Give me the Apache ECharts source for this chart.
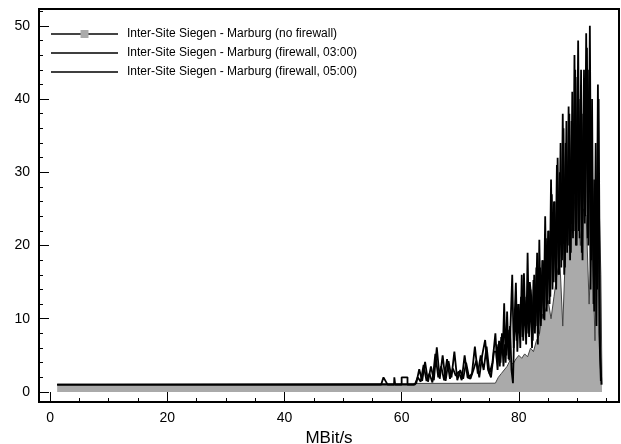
<!DOCTYPE html>
<html>
<head>
<meta charset="utf-8">
<script src="https://cdn.jsdelivr.net/npm/echarts@6/dist/echarts.min.js"></script>
<style>html,body{margin:0;padding:0;background:#fff}#c{width:621px;height:444px}</style>
</head>
<body>
<div id="c"></div>
<script>
// ---- data ----
var seriesNames = [
  'Inter-Site Siegen - Marburg (no firewall)',
  'Inter-Site Siegen - Marburg (firewall, 03:00)',
  'Inter-Site Siegen - Marburg (firewall, 05:00)'
];
var xTicks = [0, 20, 40, 60, 80];
var xMinorTicks = [0,5,10,15,20,25,30,35,40,45,50,55,60,65,70,75,80,85,90,95];
var yTicks = [0, 10, 20, 30, 40, 50];
var yMinorTicks = [0,2,4,6,8,10,12,14,16,18,20,22,24,26,28,30,32,34,36,38,40,42,44,46,48,50,52];

var noFwX = [1.2, 76, 76.5, 77, 77.5, 78, 78.5, 79, 79.5, 80, 80.5, 81, 81.5, 82, 82.5, 83, 83.5, 84, 84.5, 85, 85.5, 86, 86.5, 87, 87.5, 88, 88.5, 89, 89.5, 90, 90.5, 91, 91.5, 92, 92.5, 93, 93.5, 94, 94.2];
var noFwY = [1, 1.2, 2, 2.5, 3, 3.5, 4.3, 3.8, 4.5, 5, 4.6, 5.2, 4.8, 6, 5.5, 7, 7.8, 10.5, 11, 12.5, 10, 13, 16, 18, 9, 20, 23, 22, 26, 28, 20, 25, 24, 12, 22, 7, 33, 16, 1];

var fw03X = [1.2, 56.5, 56.9, 57.1, 57.6, 58.7, 58.75, 58.85, 58.9, 60.0, 60.0, 61.0, 61.0, 62.0,
  62.5, 63, 63.5, 64, 64.5, 65, 65.5, 66, 66.5, 67, 67.5, 68, 68.5, 69, 69.5, 70, 70.5, 71, 71.5, 72, 72.5, 73, 73.5, 74, 74.5, 75, 75.5,
  76, 76.25, 76.5, 76.75, 77, 77.25, 77.5, 77.75, 78, 78.25, 78.5, 78.75, 79, 79.25, 79.5, 79.75,
  80, 80.25, 80.5, 80.75, 81, 81.25, 81.5, 81.75, 82, 82.25, 82.5, 82.75, 83, 83.25, 83.5, 83.75,
  84, 84.25, 84.5, 84.75, 85, 85.25, 85.5, 85.75, 86, 86.25, 86.5, 86.75, 87, 87.25, 87.5, 87.75,
  88, 88.25, 88.5, 88.75, 89, 89.25, 89.5, 89.75, 90, 90.25, 90.5, 90.75, 91, 91.25, 91.5, 91.75,
  92, 92.25, 92.5, 92.75, 93, 93.25, 93.5, 93.75, 94];
var fw03Y = [1, 1, 2, 2, 1, 1, 2, 2, 1, 1, 2, 2, 1, 1,
  1.2, 3.1, 1.5, 4.1, 1.4, 3.5, 1.6, 6.1, 1.8, 5.0, 1.5, 4.2, 2.0, 5.5, 1.6, 3.0, 1.8, 4.0, 2.0, 2.5, 6.2, 2.5, 5.0, 3.0, 6.2, 2.5, 4.0,
  8.0, 4.5, 6.5, 3.5, 7.5, 5.0, 12.1, 4.0, 11.0, 4.5, 9.0, 3.0, 1.2, 9.5, 14.9, 5.5,
  12, 6, 16.0, 7, 13, 6.5, 19.0, 7.5, 14, 6, 15.3, 8, 17, 6.5, 20.8, 9,
  18, 10, 24, 11, 22, 12, 29, 14, 26, 15, 31, 16, 30, 17, 38, 16,
  34, 19, 39, 18, 37, 21, 46, 20, 43, 22, 40, 19, 38, 23, 49, 21,
  44, 14, 40, 12, 29, 9, 42, 8, 1.5];

var fw05X = [1.2, 62.25,
  62.75, 63.25, 63.75, 64.25, 64.75, 65.25, 65.75, 66.25, 66.75, 67.25, 67.75, 68.25, 68.75, 69.25, 69.75, 70.25, 70.75, 71.25, 71.75, 72.25, 72.75, 73.25, 73.75, 74.25, 74.75, 75.25, 75.75,
  76.125, 76.375, 76.625, 76.875, 77.125, 77.375, 77.625, 77.875, 78.125, 78.375, 78.625, 78.875, 79.125, 79.375, 79.625, 79.875,
  80.125, 80.375, 80.625, 80.875, 81.125, 81.375, 81.625, 81.875, 82.125, 82.375, 82.625, 82.875, 83.125, 83.375, 83.625, 83.875,
  84.125, 84.375, 84.625, 84.875, 85.125, 85.375, 85.625, 85.875, 86.125, 86.375, 86.625, 86.875, 87.125, 87.375, 87.625, 87.875,
  88.125, 88.375, 88.625, 88.875, 89.125, 89.375, 89.625, 89.875, 90.125, 90.375, 90.625, 90.875, 91.125, 91.375, 91.625, 91.875,
  92.125, 92.375, 92.625, 92.875, 93.125, 93.375, 93.625, 93.875, 94.1];
var fw05Y = [1, 1,
  2.0, 1.4, 3.7, 1.5, 2.5, 1.3, 5.2, 2.0, 3.5, 1.6, 4.5, 1.8, 3.2, 2.2, 2.8, 1.6, 5.0, 2.0, 1.8, 3.0, 4.3, 2.0, 5.0, 7.1, 3.0, 2.0, 5.5,
  5.5, 3.0, 7.0, 4.0, 8.0, 3.5, 6.5, 5.0, 8.5, 4.3, 10, 16.0, 6.0, 11, 7, 12.0,
  8.0, 13, 7.5, 16.2, 9, 12.6, 8.0, 15, 13.0, 7.0, 16, 9, 19.0, 8.0, 17, 10,
  18, 9.8, 21, 12, 22, 13, 27, 15, 26, 14, 32, 16, 34, 18, 36, 17,
  37, 20, 38, 19, 41, 22, 44, 20, 48, 21, 44, 18, 44, 24, 47, 20,
  50, 18, 29, 11, 34, 14, 40, 6, 1];

function zip(xs, ys) { return xs.map(function (x, i) { return [x, ys[i]]; }); }

var FONT = '"Liberation Sans", Arial, Helvetica, sans-serif';
var linePath = 'path://M0,4.2h68v1.6h-68z M0,0h0.05v0.05h-0.05z M0,9.95h0.05v0.05h-0.05z';

var chart = echarts.init(document.getElementById('c'), null, {renderer: 'canvas'});
chart.setOption({
  animation: false,
  backgroundColor: '#fff',
  grid: {left: 39, right: 2, top: 9, bottom: 42, show: true, borderColor: '#000', borderWidth: 2,
         backgroundColor: 'transparent', containLabel: false, outerBoundsMode: 'none'},
  legend: {
    orient: 'vertical', left: 50, top: 28, padding: 0, itemWidth: 67, itemHeight: 10, itemGap: 7,
    textStyle: {fontFamily: FONT, fontSize: 12, color: '#000', padding: [0, 0, 0, 4]},
    data: [
      {name: seriesNames[0]},
      {name: seriesNames[1], icon: linePath},
      {name: seriesNames[2], icon: linePath}
    ]
  },
  xAxis: [
    {type: 'value', min: -1.9, max: 97.1, position: 'bottom',
     name: 'MBit/s', nameLocation: 'middle', nameGap: 27,
     nameTextStyle: {fontFamily: FONT, fontSize: 17, color: '#000'},
     axisLine: {show: false, onZero: false}, splitLine: {show: false},
     axisTick: {show: true, inside: true, length: 10, customValues: xTicks, lineStyle: {color: '#000', width: 1}},
     axisLabel: {show: true, customValues: xTicks, margin: 9, fontFamily: FONT, fontSize: 14, color: '#000'}},
    {type: 'value', min: -1.9, max: 97.1, position: 'bottom',
     axisLine: {show: false, onZero: false}, splitLine: {show: false},
     axisTick: {show: true, inside: true, length: 4, customValues: xMinorTicks, lineStyle: {color: '#000', width: 1}},
     axisLabel: {show: false}}
  ],
  yAxis: [
    {type: 'value', min: -1.37, max: 52.3, position: 'left',
     axisLine: {show: false, onZero: false}, splitLine: {show: false},
     axisTick: {show: true, inside: true, length: 10, customValues: yTicks, lineStyle: {color: '#000', width: 1}},
     axisLabel: {show: true, customValues: yTicks, margin: 9, fontFamily: FONT, fontSize: 14, color: '#000'}},
    {type: 'value', min: -1.37, max: 52.3, position: 'left',
     axisLine: {show: false, onZero: false}, splitLine: {show: false},
     axisTick: {show: true, inside: true, length: 4, customValues: yMinorTicks, lineStyle: {color: '#000', width: 1}},
     axisLabel: {show: false}}
  ],
  series: [
    {name: seriesNames[0], type: 'line', xAxisIndex: 0, yAxisIndex: 0,
     data: zip(noFwX, noFwY), symbol: 'rect', showSymbol: false, symbolSize: 8,
     itemStyle: {color: '#aaaaaa'}, lineStyle: {color: '#444444', width: 1},
     areaStyle: {color: '#aaaaaa', opacity: 1}, z: 2},
    {name: seriesNames[1], type: 'line', xAxisIndex: 0, yAxisIndex: 0,
     data: zip(fw03X, fw03Y), symbol: 'none', showSymbol: false,
     itemStyle: {color: '#000'}, lineStyle: {color: '#000', width: 1.8}, z: 3},
    {name: seriesNames[2], type: 'line', xAxisIndex: 0, yAxisIndex: 0,
     data: zip(fw05X, fw05Y), symbol: 'none', showSymbol: false,
     itemStyle: {color: '#000'}, lineStyle: {color: '#000', width: 1.8}, z: 3}
  ]
});
</script>
</body>
</html>
